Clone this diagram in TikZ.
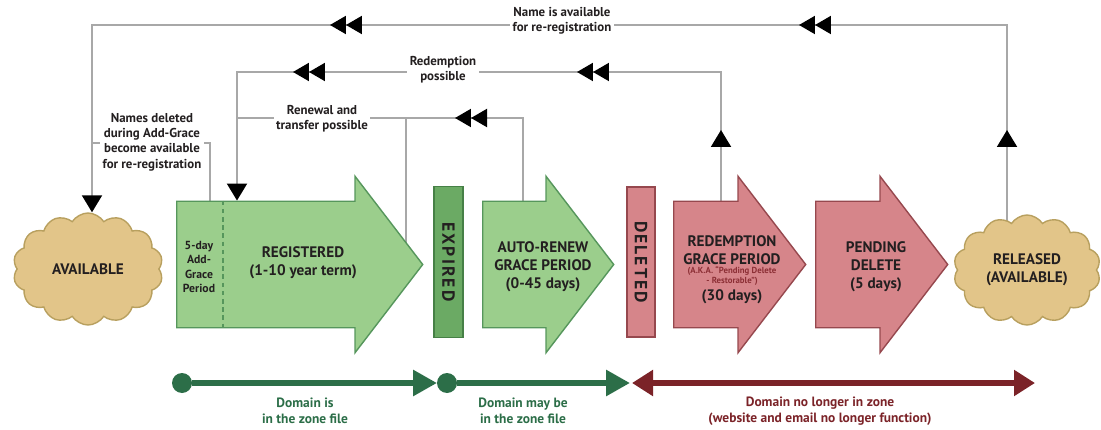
\documentclass[tikz,border=0pt]{standalone}
\usepackage{fontspec}
\setmainfont{PT Sans}
\usetikzlibrary{shapes.arrows,shapes.symbols,arrows.meta,decorations.markings,backgrounds}

\definecolor{greenFill}{HTML}{9BCE8C}
\definecolor{greenLine}{HTML}{56965C}
\definecolor{expFill}{HTML}{6BAA64}
\definecolor{expLine}{HTML}{468046}
\definecolor{redFill}{HTML}{D6858A}
\definecolor{redLine}{HTML}{96484E}
\definecolor{cloudFill}{HTML}{E2C589}
\definecolor{cloudLine}{HTML}{B8A05F}
\definecolor{lineGrey}{HTML}{A8A8A8}
\definecolor{tlGreen}{HTML}{2C6E48}
\definecolor{tlRed}{HTML}{7B2328}
\definecolor{ink}{HTML}{231F20}
\definecolor{akaRed}{HTML}{8C2F35}

\begin{document}
\begin{tikzpicture}[x=0.03cm,y=-0.03cm,
  bigtxt/.style={font=\fontsize{13}{15.5}\selectfont\bfseries, text=ink, align=center},
  lbl/.style={font=\fontsize{11}{13}\selectfont\bfseries, text=ink, align=center, fill=white, inner sep=2pt},
  cloudbox/.style={cloud, cloud puffs=14, cloud puff arc=115, aspect=1.35, draw=cloudLine, line width=1.2pt, fill=cloudFill, inner sep=0pt, font=\fontsize{13}{15.5}\selectfont\bfseries, text=ink, align=center},
  % body 125px tall (strut inside), head 175px tall, head length 67px
  bigarrow/.style={single arrow, single arrow head extend=0.75cm, single arrow tip angle=105, inner sep=0pt, line width=1.2pt, anchor=tail},
  garrow/.style={bigarrow, fill=greenFill, draw=greenLine},
  rarrow/.style={bigarrow, fill=redFill, draw=redLine},
  bar/.style={rectangle, line width=1.2pt, inner sep=0pt, font=\fontsize{15}{16}\selectfont\bfseries\addfontfeature{LetterSpace=12}, text=ink},
  conn/.style={draw=lineGrey, line width=1.7pt},
  dtip/.style={decoration={markings, mark=at position #1 with {\arrow{Triangle[color=black,length=0.48cm,width=0.54cm,sep=0pt] Triangle[color=black,length=0.48cm,width=0.54cm]}}}},
  stip/.style={decoration={markings, mark=at position #1 with {\arrow{Triangle[color=black,length=0.51cm,width=0.6cm]}}}},
  endtip/.style={-{Triangle[color=black,length=0.51cm,width=0.6cm]}},
  dot/.style={circle, fill=tlGreen, minimum size=0.6cm, inner sep=0pt},
  tlabel/.style={font=\fontsize{11.5}{13.8}\selectfont\bfseries, align=center}
]
\useasboundingbox (0,0) rectangle (1101,430);

\newcommand{\bodystrut}{\rule{0pt}{3.75cm}}

% ---- lifecycle stages ----
\node[cloudbox, minimum width=4.5cm, minimum height=3.36cm] (avail) at (88,269) {AVAILABLE};
\node[garrow, minimum height=7.38cm] (reg) at (176,264.5) {\bodystrut};
\node[bar, fill=expFill, draw=expLine, rotate=-90, minimum width=4.53cm, minimum height=0.87cm] (exp) at (448.5,262) {EXPIRED};
\node[garrow, minimum height=3.93cm] (auto) at (482,264.5) {\bodystrut};
\node[bar, fill=redFill, draw=redLine, rotate=-90, minimum width=4.5cm, minimum height=0.84cm] (del) at (641,262) {DELETED};
\node[rarrow, minimum height=3.96cm] (red) at (673,264.5) {\bodystrut};
\node[rarrow, minimum height=3.96cm] (pend) at (815,264.5) {\bodystrut};
\node[cloudbox, minimum width=4.41cm, minimum height=3.3cm] (rel) at (1027,270) {RELEASED\\(AVAILABLE)};

% add-grace divider
\coordinate (dashx) at (223,0);
\draw[greenLine, line width=1.1pt, dash pattern=on 4pt off 3pt] (reg.north -| dashx) -- (reg.south -| dashx);

% stage texts
\node[font=\fontsize{10}{12}\selectfont\bfseries, text=ink, align=center] (addT) at (199,267) {5-day\\Add-\\Grace\\Period};
\node[bigtxt] (regT) at (303,263) {REGISTERED\\(1-10 year term)};
\node[bigtxt] (autoT) at (543,267) {AUTO-RENEW\\GRACE PERIOD\\(0-45 days)};
\node[bigtxt] (redT) at (732,250) {REDEMPTION\\GRACE PERIOD};
\node[font=\fontsize{7.5}{8.8}\selectfont\bfseries, text=akaRed, align=center] (akaT) at (732,276) {(A.K.A. “Pending Delete\\- Restorable”)};
\node[bigtxt] (daysT) at (732,297) {(30 days)};
\node[bigtxt] (pendT) at (876,267) {PENDING\\DELETE\\(5 days)};

% ---- return paths ----
\coordinate (cA) at (1007,25);
\coordinate (cB) at (92,25);
\coordinate (cC) at (721,72);
\coordinate (cD) at (237,72);
\coordinate (cE) at (523,118);
\coordinate (cF) at (237,118);
\coordinate (cG) at (406,118);
\coordinate (cH) at (210,143);
\coordinate (cI) at (92,143);

\begin{pgfonlayer}{background}
  \draw[conn, endtip, postaction={decorate, stip=4.2cm}, postaction={decorate, dtip=13.59cm}, postaction={decorate, dtip=27.66cm}]
    (rel.center -| cA) -- (cA) -- (cB) -- (avail.north -| cB);
  \draw[conn, endtip, postaction={decorate, stip=4.035cm}, postaction={decorate, dtip=10.095cm}, postaction={decorate, dtip=18.615cm}]
    (red.center -| cC) -- (cC) -- (cD) -- (reg.north -| cD);
  \draw[conn, postaction={decorate, dtip=6.435cm}]
    (auto.center -| cE) -- (cE) -- (cF);
  \draw[conn] (reg.center -| cG) -- (cG);
  \draw[conn] (reg.center -| cH) -- (cH) -- (cI);
\end{pgfonlayer}

% path labels
\node[lbl] (lA) at (562,21) {Name is available\\for re-registration};
\node[lbl] (lB) at (443,70) {Redemption\\possible};
\node[lbl] (lC) at (322,119) {Renewal and\\transfer possible};
\node[lbl] (lD) at (152,142) {Names deleted\\during Add-Grace\\become available\\for re-registration};

% ---- zone timeline ----
\node[dot] (d1) at (182,383) {};
\coordinate (t1) at (437,383);
\node[dot] (d2) at (447,383) {};
\coordinate (t2) at (630,383);
\coordinate (r1) at (632,383);
\coordinate (r2) at (1035,383);
\draw[tlGreen, line width=5pt, -{Triangle[length=0.72cm,width=0.75cm]}] (d1) -- (t1);
\draw[tlGreen, line width=5pt, -{Triangle[length=0.72cm,width=0.75cm]}] (d2) -- (t2);
\draw[tlRed, line width=5pt, {Triangle[length=0.63cm,width=0.75cm]}-{Triangle[length=0.63cm,width=0.75cm]}] (r1) -- (r2);

\node[tlabel, text=tlGreen] (z1) at (305,411) {Domain is\\in the zone file};
\node[tlabel, text=tlGreen] (z2) at (523,411) {Domain may be\\in the zone file};
\node[tlabel, text=tlRed] (z3) at (820,411) {Domain no longer in zone\\(website and email no longer function)};
\end{tikzpicture}
\end{document}
